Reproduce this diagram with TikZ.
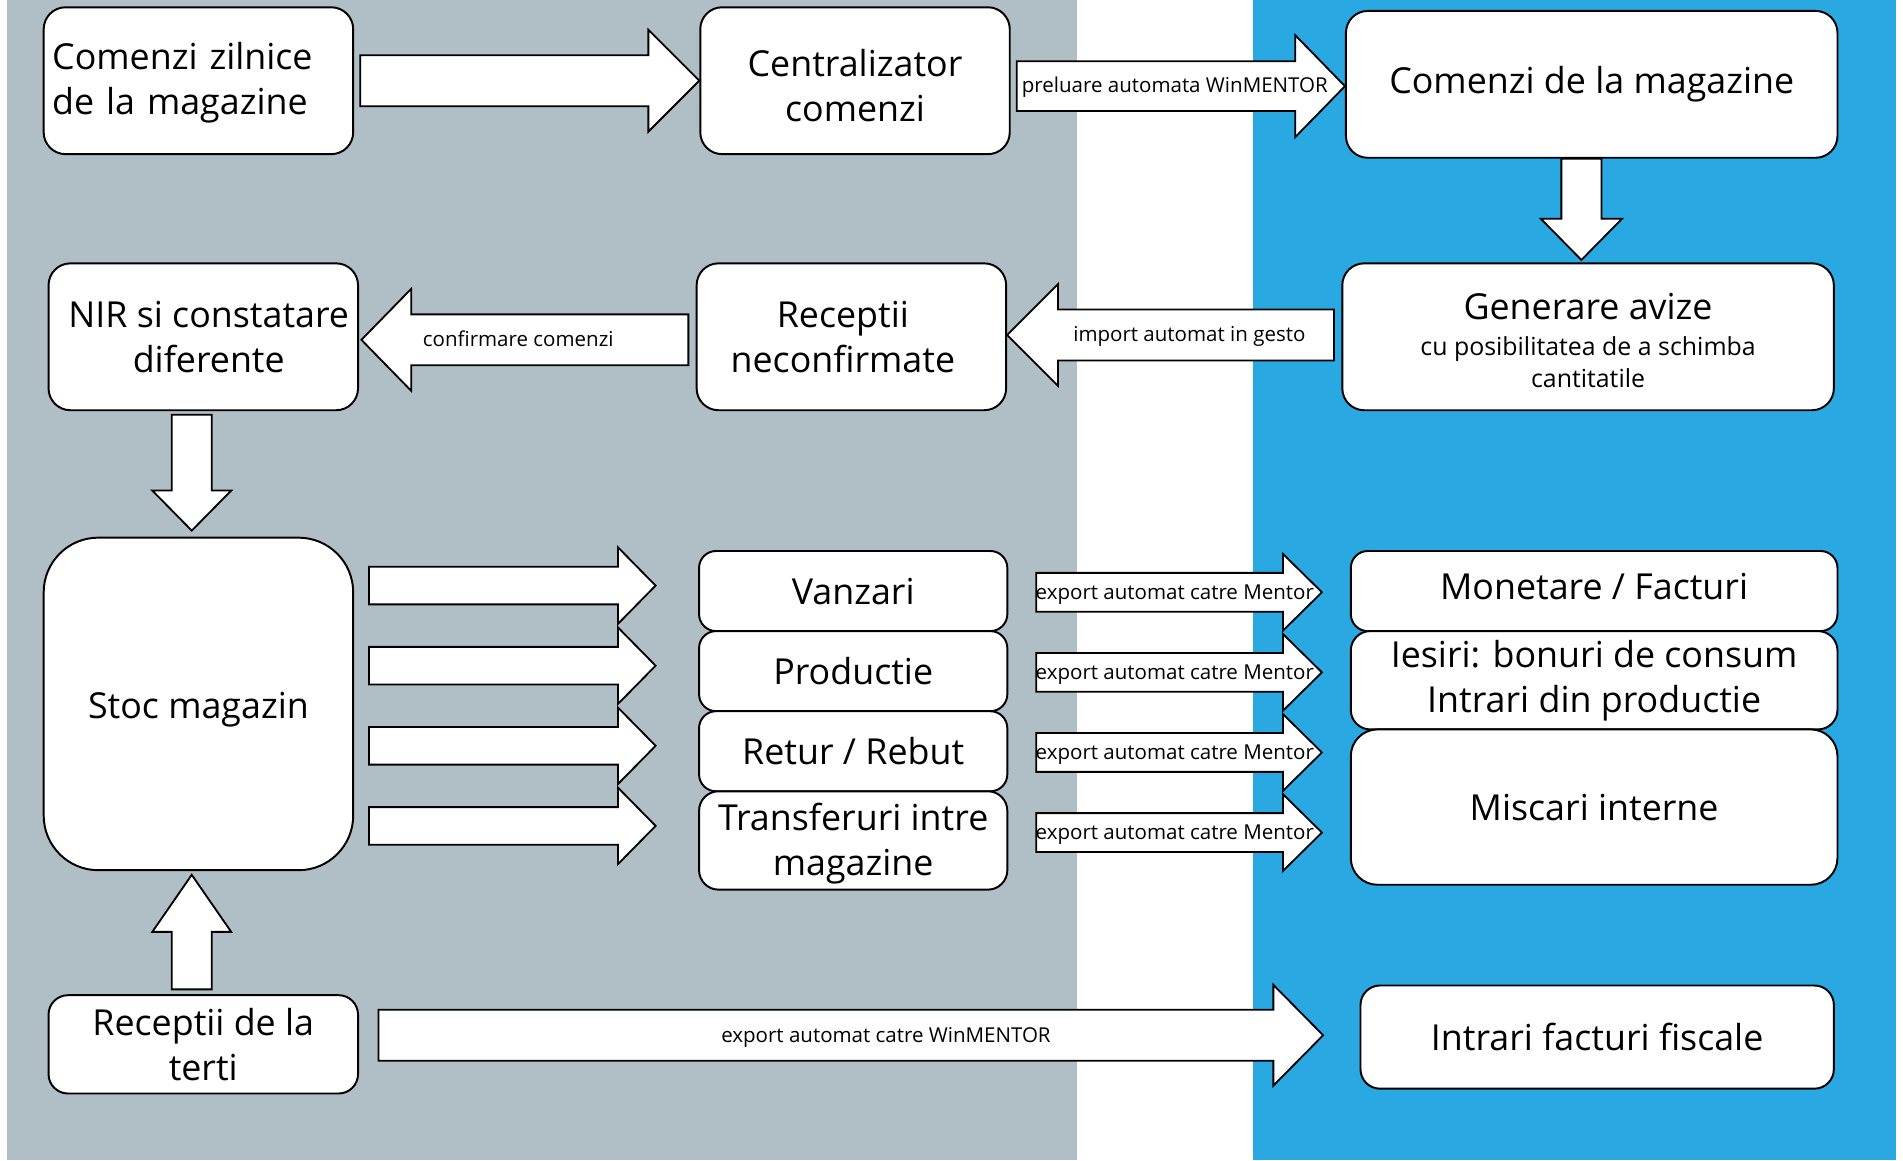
\documentclass[tikz,border=0pt]{standalone}
\usepackage{fontspec}
\setmainfont{Open Sans}
\usetikzlibrary{calc}
\definecolor{panelgray}{HTML}{B0BEC5}
\definecolor{panelblue}{HTML}{29A8E1}
\newcommand\bigf{\fontsize{29.5}{37}\selectfont}
\newcommand\midf{\fontsize{20.5}{26}\selectfont}
\newcommand\smallf{\fontsize{16.9}{20}\selectfont}
\newcommand\toppad[1]{\rule{0pt}{#1}}
% block arrows: #1 start, #2 end (tip), #3 shaft half width, #4 head half width, #5 head length
\newcommand\rarr[5]{\draw[arr] let \p1=#1, \p2=#2 in
  (\x1,\y1-#3pt) -- (\x2-#5pt,\y1-#3pt) -- (\x2-#5pt,\y1-#4pt) -- (\x2,\y1)
  -- (\x2-#5pt,\y1+#4pt) -- (\x2-#5pt,\y1+#3pt) -- (\x1,\y1+#3pt) -- cycle;}
\newcommand\larr[5]{\draw[arr] let \p1=#1, \p2=#2 in
  (\x1,\y1-#3pt) -- (\x2+#5pt,\y1-#3pt) -- (\x2+#5pt,\y1-#4pt) -- (\x2,\y1)
  -- (\x2+#5pt,\y1+#4pt) -- (\x2+#5pt,\y1+#3pt) -- (\x1,\y1+#3pt) -- cycle;}
\newcommand\darr[5]{\draw[arr] let \p1=#1, \p2=#2 in
  (\x1-#3pt,\y1) -- (\x1-#3pt,\y2+#5pt) -- (\x1-#4pt,\y2+#5pt) -- (\x1,\y2)
  -- (\x1+#4pt,\y2+#5pt) -- (\x1+#3pt,\y2+#5pt) -- (\x1+#3pt,\y1) -- cycle;}
\newcommand\uarr[5]{\draw[arr] let \p1=#1, \p2=#2 in
  (\x1-#3pt,\y1) -- (\x1-#3pt,\y2-#5pt) -- (\x1-#4pt,\y2-#5pt) -- (\x1,\y2)
  -- (\x1+#4pt,\y2-#5pt) -- (\x1+#3pt,\y2-#5pt) -- (\x1+#3pt,\y1) -- cycle;}
\begin{document}
\begin{tikzpicture}[x=1pt,y=-1pt,
  box/.style={draw=black, fill=white, line width=1.6pt, rounded corners=18pt,
    inner sep=0pt, align=center, font=\bigf},
  arr/.style={draw=black, fill=white, line width=1.5pt, line join=miter},
  lbl/.style={inner sep=0pt, font=\smallf}]
\useasboundingbox (0,0) rectangle (1568,956);
\fill[white] (0,0) rectangle (1568,956);
\fill[panelgray] (6,0) rectangle (887,956);
\fill[panelblue] (1032,0) rectangle (1562,956);

% boxes
\node[box, minimum width=255pt, minimum height=121pt, text width=241pt, align=left] (comz) at (163.5,66.5) {\toppad{26.4pt}Comenzi zilnice\\de la magazine};
\node[box, minimum width=255pt, minimum height=121pt] (centr) at (704.5,66.5) {\toppad{30.4pt}Centralizator\\comenzi};
\node[box, minimum width=405pt, minimum height=121pt] (cdm) at (1311.5,69.5) {Comenzi de la magazine};
\node[box, minimum width=255pt, minimum height=121pt] (nir) at (167.5,277.5) {\hspace*{9pt}NIR si constatare\\\hspace*{9pt}diferente};
\node[box, minimum width=255pt, minimum height=121pt] (recn) at (701.5,277.5) {Receptii\hspace*{14pt}\\neconfirmate\hspace*{14pt}};
\node[box, minimum width=405pt, minimum height=121pt] (gen) at (1308.5,277.5) {\toppad{35pt}Generare avize\\[-7pt]{\midf\begin{tabular}[t]{@{}c@{}}cu posibilitatea de a schimba\\cantitatile\end{tabular}}};
\node[box, rounded corners=45pt, minimum width=255pt, minimum height=274pt] (stoc) at (163.5,580) {\raisebox{-5pt}[\height][\depth]{Stoc magazin}};
\node[box, rounded corners=14pt, minimum width=254pt, minimum height=66pt] (vanz) at (703,487) {Vanzari};
\node[box, rounded corners=14pt, minimum width=254pt, minimum height=66pt] (prod) at (703,553) {Productie};
\node[box, rounded corners=14pt, minimum width=254pt, minimum height=66pt] (retur) at (703,619) {Retur / Rebut};
\node[box, rounded corners=16pt, minimum width=254pt, minimum height=81pt] (transf) at (703,692.5) {\toppad{28.4pt}Transferuri intre\\magazine};
\node[box, rounded corners=14pt, minimum width=401pt, minimum height=66pt] (monet) at (1313.5,487) {\raisebox{4pt}[\height][\depth]{Monetare / Facturi}};
\node[box, rounded corners=16pt, minimum width=401pt, minimum height=81pt] (iesiri) at (1313.5,560.5) {Iesiri: bonuri de consum\\Intrari din productie};
\node[box, rounded corners=22pt, minimum width=401pt, minimum height=128pt] (misc) at (1313.5,665) {Miscari interne};
\node[box, rounded corners=16pt, minimum width=255pt, minimum height=81pt] (rect) at (167.5,860.5) {Receptii de la\\terti};
\node[box, rounded corners=16pt, minimum width=390pt, minimum height=85pt] (intr) at (1316,854.5) {Intrari facturi fiscale};

% free ends of the four arrows leaving the stock
\coordinate (s1) at (304,482.5);
\coordinate (s2) at (304,548.5);
\coordinate (s3) at (304,614.5);
\coordinate (s4) at (304,680.5);

% arrows
\rarr{([xshift=5pt]comz.east)}{(centr.west)}{21}{42}{42}
\rarr{([xshift=5pt,yshift=-4.5pt]centr.east)}{(cdm.west)}{20.5}{42}{41}
\darr{([xshift=-8.5pt]cdm.south)}{([yshift=2pt]gen.north)}{16.5}{33.5}{34}
\larr{([xshift=-6pt,yshift=1.5pt]gen.west)}{(recn.east)}{21}{42}{42}
\larr{([xshift=-6pt,yshift=-2.5pt]recn.west)}{([xshift=2pt]nir.east)}{21}{42}{41}
\darr{([xshift=-9.5pt,yshift=-3pt]nir.south)}{([yshift=5pt]stoc.north)}{16.5}{32.5}{33}
\rarr{(s1)}{([xshift=-35pt]vanz.west)}{15.5}{31.5}{31}
\rarr{(s2)}{([xshift=-35pt]prod.west)}{15.5}{31.5}{31}
\rarr{(s3)}{([xshift=-35pt]retur.west)}{15.5}{31.5}{31}
\rarr{(s4)}{([xshift=-35pt]transf.west)}{15.5}{31.5}{31}
\rarr{([xshift=23pt,yshift=-1pt]vanz.east)}{([xshift=-23pt]monet.west)}{16}{31.5}{32}
\rarr{([xshift=23pt,yshift=-1pt]prod.east)}{([xshift=-23pt]monet.west)}{16}{31.5}{32}
\rarr{([xshift=23pt,yshift=-1pt]retur.east)}{([xshift=-23pt]monet.west)}{16}{31.5}{32}
\rarr{([xshift=23pt,yshift=6.5pt]transf.east)}{([xshift=-23pt]monet.west)}{16}{31.5}{32}
\uarr{([xshift=-9.5pt,yshift=4pt]rect.north)}{([yshift=-3pt]stoc.south)}{16.5}{32.5}{47}
\rarr{([xshift=16pt,yshift=7.5pt]rect.east)}{([xshift=-30pt]intr.west)}{21}{41.5}{41}

% arrow labels
\node[lbl] (l1) at (968,72) {preluare automata WinMENTOR};
\node[lbl] (l2) at (980,277) {import automat in gesto};
\node[lbl] (l3) at (427,279) {confirmare comenzi};
\node[lbl] (l4) at (968,490) {export automat catre Mentor};
\node[lbl] (l5) at (968,556) {export automat catre Mentor};
\node[lbl] (l6) at (968,622) {export automat catre Mentor};
\node[lbl] (l7) at (968,688) {export automat catre Mentor};
\node[lbl] (l8) at (730,855) {export automat catre WinMENTOR};
\end{tikzpicture}
\end{document}
